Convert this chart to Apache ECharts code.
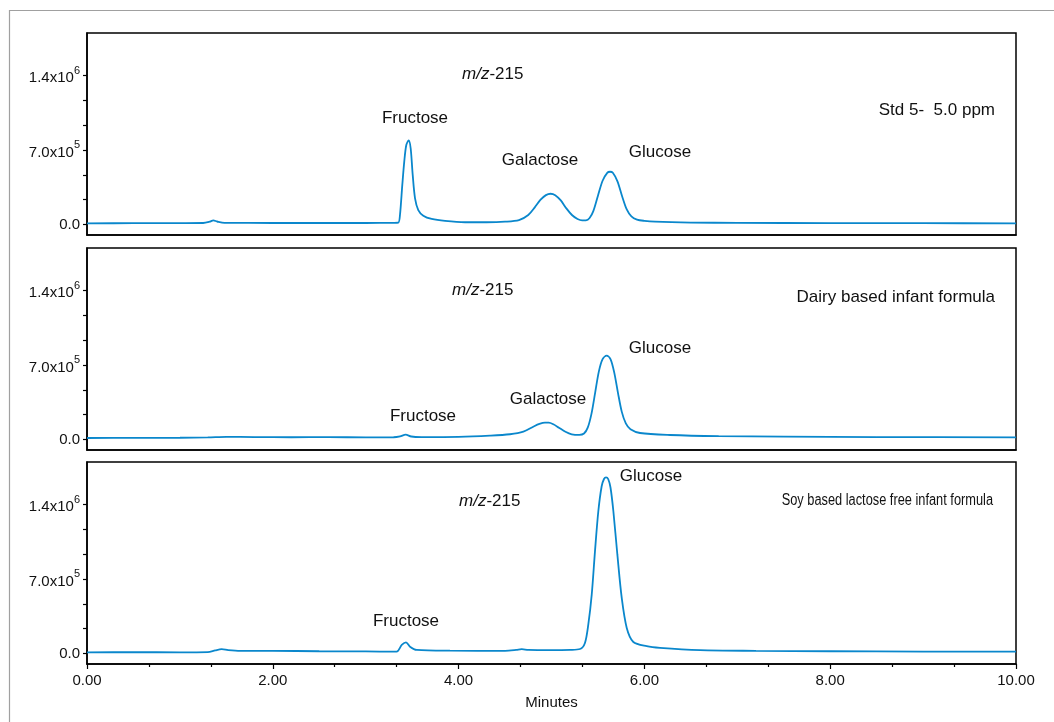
<!DOCTYPE html>
<html>
<head>
<meta charset="utf-8">
<script src="https://cdn.jsdelivr.net/npm/echarts@6/dist/echarts.min.js"></script>
<style>
html,body{margin:0;padding:0;background:#fff;}
#chart{width:1054px;height:722px;}
</style>
</head>
<body>
<div id="chart"></div>
<script>
// ---- Data (time in minutes, signal in thousands of counts) ----
var stdTime = [0, 0.5, 1.0, 1.25, 1.32, 1.36, 1.40, 1.48, 2.0, 2.5, 3.0, 3.3, 3.351, 3.369, 3.394, 3.415, 3.437, 3.463, 3.484, 3.506, 3.531, 3.566, 3.620, 3.710, 3.854, 4.069, 4.3, 4.50, 4.65, 4.75, 4.82, 4.88, 4.94, 4.99, 5.04, 5.10, 5.16, 5.22, 5.28, 5.33, 5.37, 5.41, 5.45, 5.50, 5.55, 5.60, 5.63, 5.66, 5.71, 5.76, 5.81, 5.86, 5.92, 6.0, 6.114, 6.5, 7, 8, 9, 10];
var stdSignal = [10, 11, 12, 13, 25, 38, 27, 14, 13, 13, 13, 14, 16, 88, 371, 590, 747, 790, 716, 465, 245, 135, 82, 51, 32, 20, 20, 25, 40, 88, 160, 230, 275, 288, 275, 225, 150, 88, 50, 37, 38, 60, 125, 270, 410, 485, 495, 485, 405, 265, 140, 75, 45, 33, 25, 17, 14, 12, 11, 10];

var dairyTime = [0, 0.5, 1.0, 1.3, 1.5, 1.8, 2.2, 2.6, 3.0, 3.3, 3.37, 3.43, 3.49, 3.6, 4.0, 4.338, 4.553, 4.697, 4.804, 4.87, 4.93, 4.97, 5.02, 5.08, 5.15, 5.218, 5.30, 5.35, 5.39, 5.43, 5.47, 5.51, 5.55, 5.594, 5.635, 5.675, 5.715, 5.756, 5.80, 5.85, 5.953, 6.276, 6.8, 7.5, 8.5, 10];
var dairySignal = [13, 14, 15, 18, 24, 22, 20, 21, 19, 20, 28, 45, 27, 22, 24, 35, 48, 72, 119, 145, 157, 157, 142, 110, 72, 48, 42, 55, 110, 240, 440, 640, 755, 787, 755, 630, 440, 261, 150, 95, 60, 41, 30, 26, 22, 18];

var soyTime = [0, 0.5, 1.0, 1.3, 1.38, 1.45, 1.52, 1.65, 2.0, 2.5, 3.0, 3.333, 3.388, 3.434, 3.477, 3.549, 3.907, 4.5, 4.62, 4.68, 4.75, 5.0, 5.2, 5.307, 5.360, 5.396, 5.433, 5.468, 5.504, 5.540, 5.565, 5.587, 5.61, 5.635, 5.666, 5.709, 5.756, 5.810, 5.881, 6.025, 6.168, 6.6, 7.2, 8, 9, 10];
var soySignal = [10, 11, 10, 12, 28, 39, 30, 23, 24, 20, 18, 16, 79, 104, 63, 32, 25, 24, 32, 39, 32, 30, 33, 41, 98, 270, 552, 960, 1337, 1572, 1640, 1656, 1640, 1560, 1337, 928, 521, 239, 107, 67, 51, 30, 24, 20, 17, 16];
var signalUnit = 1000;

var xTickLabels = ['0.00', '2.00', '4.00', '6.00', '8.00', '10.00'];
var yLabelValues = [0, 700000, 1400000];
var yLabelMantissa = ['0.0', '7.0x10', '1.4x10'];
var yLabelExponent = ['', '5', '6'];
var yTickValues = [0, 233333, 466667, 700000, 933333, 1166667, 1400000];

var panels = [
  {time: stdTime, signal: stdSignal},
  {time: dairyTime, signal: dairySignal},
  {time: soyTime, signal: soySignal}
];

var FONT = '"Liberation Sans", Arial, sans-serif';
var LINE = '#0a87cc';
var gridTops = [33, 248, 462];
var gridH = 202;

var chart = echarts.init(document.getElementById('chart'));

var grids = [], xAxes = [], yAxes = [], series = [];
panels.forEach(function (p, i) {
  grids.push({left: 87, right: 38, top: gridTops[i], height: gridH, show: true,
    borderColor: '#000', borderWidth: 1.5, backgroundColor: 'transparent'});
  var last = (i === panels.length - 1);
  xAxes.push({
    type: 'value', gridIndex: i, min: 0, max: 10, interval: 2,
    axisLine: {show: true, onZero: false, lineStyle: {color: '#000', width: 1.5}},
    axisTick: {show: last, length: 5, lineStyle: {color: '#000', width: 1.2}},
    minorTick: {show: last, splitNumber: 3, length: 3, lineStyle: {color: '#000', width: 1.2}},
    splitLine: {show: false},
    axisLabel: {show: last, margin: 9, color: '#111', fontSize: 15, fontFamily: FONT,
      formatter: function (v) { return xTickLabels[Math.round(v / 2)]; }},
    name: last ? 'Minutes' : '', nameLocation: 'middle', nameGap: 31,
    nameTextStyle: {color: '#111', fontSize: 15, fontFamily: FONT}
  });
  yAxes.push({
    type: 'value', gridIndex: i, min: -100000, max: 1800000,
    axisLine: {show: true, lineStyle: {color: '#000', width: 1.5}},
    axisTick: {show: true, length: 4, customValues: yTickValues, lineStyle: {color: '#000', width: 1.2}},
    splitLine: {show: false},
    axisLabel: {show: true, margin: 7, customValues: yLabelValues,
      formatter: function (v) {
        var k = yLabelValues.indexOf(v);
        if (k < 0) return '';
        return '{a|' + yLabelMantissa[k] + '}' + (yLabelExponent[k] ? '{s|' + yLabelExponent[k] + '}' : '');
      },
      rich: {
        a: {fontSize: 15, color: '#111', fontFamily: FONT, verticalAlign: 'bottom'},
        s: {fontSize: 11, color: '#111', fontFamily: FONT, verticalAlign: 'bottom', padding: [0, 0, 9, 0]}
      }
    }
  });
  series.push({
    type: 'line', xAxisIndex: i, yAxisIndex: i, showSymbol: false, smooth: 0.3,
    lineStyle: {color: LINE, width: 1.8}, animation: false,
    data: p.time.map(function (t, k) { return [t, p.signal[k] * signalUnit]; })
  });
});

function txt(x, y, s, align, size, sx) {
  return {type: 'text', x: x, y: y, silent: true, scaleX: sx || 1,
    style: {text: s, fill: '#111', font: (size || 17) + 'px ' + FONT, textAlign: align || 'center', textVerticalAlign: 'middle'}};
}
function mz(x, y) {
  return {type: 'text', x: x, y: y, silent: true,
    style: {text: '{i|m/z}-215', fill: '#111', font: '17px ' + FONT, textAlign: 'left', textVerticalAlign: 'middle',
      rich: {i: {fontStyle: 'italic', fontSize: 17, fontFamily: FONT, fill: '#111'}}}};
}

var graphics = [
  {type: 'rect', shape: {x: 9.5, y: 10.5, width: 1100, height: 800}, silent: true, z: -10,
    style: {fill: 'none', stroke: '#a0a0a0', lineWidth: 1.2}},
  mz(462, 74), txt(415, 118, 'Fructose'), txt(540, 160, 'Galactose'), txt(660, 152, 'Glucose'),
  txt(995, 110, 'Std 5-  5.0 ppm', 'right'),
  mz(452, 290), txt(995, 297, 'Dairy based infant formula', 'right'),
  txt(660, 348, 'Glucose'), txt(548, 399, 'Galactose'), txt(423, 416, 'Fructose'),
  txt(651, 476, 'Glucose'), mz(459, 501), txt(993, 501, 'Soy based lactose free infant formula', 'right', 16, 0.8),
  txt(406, 621, 'Fructose')
];

chart.setOption({
  animation: false,
  backgroundColor: '#fff',
  grid: grids, xAxis: xAxes, yAxis: yAxes, series: series,
  graphic: graphics
});
</script>
</body>
</html>
